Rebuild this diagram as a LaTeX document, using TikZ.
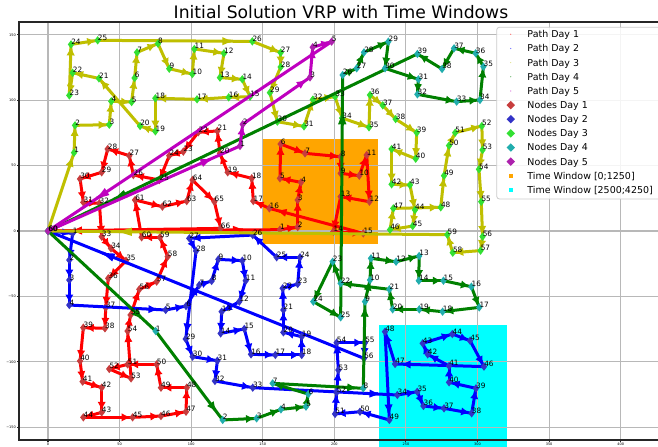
\documentclass[tikz,border=0pt]{standalone}
\usepackage{fontspec}
\setmainfont{DejaVu Sans}
\usetikzlibrary{arrows.meta,calc,shapes.geometric}
\definecolor{pr}{rgb}{1,0,0}
\definecolor{pb}{rgb}{0,0,1}
\definecolor{py}{rgb}{0.75,0.75,0}
\definecolor{pg}{rgb}{0,0.5,0}
\definecolor{pm}{rgb}{0.75,0,0.75}
\definecolor{nr}{rgb}{0.78,0.24,0.24}
\definecolor{nb}{rgb}{0.2,0.2,0.78}
\definecolor{ny}{rgb}{0.2,0.88,0.2}
\definecolor{ng}{rgb}{0.13,0.68,0.68}
\definecolor{nm}{rgb}{0.68,0.13,0.68}
\definecolor{twa}{rgb}{1,0.647,0}
\definecolor{twb}{rgb}{0,1,1}
\definecolor{gridc}{rgb}{0.72,0.72,0.72}
\newcommand\segm[3]{%
  \draw[seg,draw=#1] (#2) -- (#3);
  \path let \p1=(#2), \p2=(#3) in \pgfextra{%
    \pgfmathsetmacro\LL{veclen(\x2-\x1,\y2-\y1)}%
    \pgfmathsetmacro\gp{max(0.2*\LL-8,2.5)}%
    \pgfmathsetmacro\tfa{(\LL-\gp)/\LL}%
    \pgfmathsetmacro\tfb{(\LL-\gp-1)/\LL}%
    \pgfmathsetmacro\thl{5+0.02*\LL}%
    \xdef\fa{\tfa}\xdef\fb{\tfb}\xdef\hl{\thl}};
  \draw[seg,draw=#1,-{Triangle[length=\hl pt,width=5.5pt]}] ($(#2)!\fb!(#3)$) -- ($(#2)!\fa!(#3)$);
}
\begin{document}
\begin{tikzpicture}[x=1.07385pt,y=0.98078pt,
  seg/.style={line width=2.25pt},
  dmd/.style={diamond,inner sep=0pt,minimum width=5pt,minimum height=6.5pt,draw=none},
  ldmd/.style={diamond,inner sep=0pt,minimum width=6.5pt,minimum height=6.5pt,draw=none},
  lab/.style={font=\fontsize{5.5}{6}\selectfont,anchor=base west,inner sep=0pt},
  tick/.style={font=\fontsize{2.6}{3}\selectfont,inner sep=0pt},
  legtext/.style={font=\fontsize{7.1}{8}\selectfont,anchor=base west,inner sep=0pt},
  gridline/.style={draw=gridc,line width=0.8pt},
  frame/.style={draw=black!85,line width=0.8pt}]
\clip (-33.52,-164.41) rectangle (426.03,176.65);
\fill[white] (-33.52,-164.41) rectangle (426.03,176.65);
% time windows
\fill[twa] (150,-10.2) rectangle (230.3,70.1);
\fill[twb] (231.4,-170) rectangle (320.6,-71.9);
% grid
\foreach \gx in {0,50,...,400} \draw[gridline] (\gx,-159.8) -- (\gx,159.8);
\foreach \gy in {-150,-100,...,150} \draw[gridline] (-20.25,\gy) -- (430,\gy);
\coordinate (dep) at (0,0);
% ---------- Day 1
\foreach \i/\x/\y in {1/162/1,2/174.4/3,3/174.4/23.7,4/176.7/37.2,5/162/40.3,6/162.5/66.5,7/179.5/59.4,8/204.4/56.8,9/204.4/44.1,10/217.4/42.3,11/222.6/58.1,12/224.5/22.4,13/204.4/26.3,14/199.3/-0.5,15/220.2/-1.8,16/154.6/17.3,17/143.4/22.9,18/142.3/40.3,19/125.5/44.9,20/120.1/59.4,21/118.3/76.5,22/105/75.5,23/94.5/60.7,24/84.7/57.6,25/77.8/39,26/59.6/42.8,27/56.8/57.6,28/41.7/62.7,29/37.5/44.9,30/22.4/39.8,31/24.7/21.9,32/35.9/21.2,33/37.5/-4.3,34/44/-13.3,35/54.5/-22.7,36/42.1/-36.2,37/40.3/-58.6,38/39.8/-74.4,39/24.7/-73.9,40/22.4/-99.4,41/24.2/-115.2,42/37.5/-119.8,43/37.5/-138.7,44/24.7/-142.5,45/59.1/-142.5,46/78.9/-141.5,47/96.4/-138.2,48/96.9/-119.8,49/78.9/-119.8,50/75.9/-102,51/55.6/-102,52/42.8/-105.5,53/58/-112.7,54/55.6/-76.5,55/57.7/-64.2,56/63.8/-44.6,57/75.9/-38.7,58/83.6/-19.6,59/78.2/-4.8,60/65.4/-4.8,61/60.8/23.7,62/79.9/18.6,63/96.9/22.9,64/101/39,65/116.2/22.4,66/120.6/2}
  {\coordinate (a\i) at (\x,\y);}
\segm{pr}{dep}{a1}
\foreach \i in {1,...,65}{\pgfmathtruncatemacro\j{\i+1}\segm{pr}{a\i}{a\j}}
\segm{pr}{a66}{dep}
\node[dmd,fill=nr] (ma0) at (dep) {};
\foreach \i in {1,...,66}{\node[dmd,fill=nr] (ma\i) at (a\i) {};}
% ---------- Day 2
\foreach \i/\x/\y in {1/17.2/-1.8,2/14.9/-22.2,3/14.9/-37.5,4/14.9/-56.6,5/82.2/-60.4,6/96.4/-57.4,7/105.7/-41.3,8/114.3/-38.2,9/119/-21.7,10/135.7/-22.7,11/138.1/-38,12/133.6/-54,13/121.3/-61.7,14/120.6/-78.3,15/137.1/-74.9,16/141.8/-94.3,17/158.8/-94.8,18/177.2/-94.8,19/177.2/-80.8,20/164.4/-77.5,21/164.4/-60.4,22/163.9/-43.8,23/174.4/-40.5,24/176/-20.1,25/159.7/-20.1,26/143/-3.1,27/98.7/-5.6,28/103.4/-15.3,29/96.2/-82.6,30/101/-96.1,31/118.3/-99.2,32/116.6/-114.7,33/143/-119.8,34/244/-125.4,35/257.9/-122.9,36/262.2/-133.8,37/276.6/-135.6,38/295.9/-139.4,39/298.9/-120.3,40/280.1/-115.7,41/280.1/-103.2,42/265.2/-94.3,43/261.7/-85.9,44/282.4/-78.8,45/294.8/-83.9,46/304.5/-103.7,47/242.4/-101.7,48/235.4/-77,49/238.4/-144.5,50/217.9/-138.2,51/200.5/-139.9,52/201.6/-123.4,53/202.8/-106.3,54/201.6/-85.4,55/221.4/-85.4,56/220.7/-97.4}
  {\coordinate (b\i) at (\x,\y);}
\segm{pb}{dep}{b1}
\foreach \i in {1,...,55}{\pgfmathtruncatemacro\j{\i+1}\segm{pb}{b\i}{b\j}}
\segm{pb}{b56}{dep}
\node[dmd,fill=nb] (mb0) at (dep) {};
\foreach \i in {1,...,56}{\node[dmd,fill=nb] (mb\i) at (b\i) {};}
% ---------- Day 3
\foreach \i/\x/\y in {1/18.2/59.9,2/18.9/80.8,3/42.8/81.3,4/44.2/99.2,5/58.4/98.6,6/60.5/117,7/62.2/136.6,8/76.8/143.3,9/84.7/124.1,10/100.8/120,11/102.2/139.2,12/122.9/135.9,13/120.1/117.3,14/135.7/116,15/141.1/102.7,16/126.2/102.2,17/104.1/100.7,18/75/101.5,19/75/76.2,20/64.3/80.3,21/35.6/116.7,22/17.2/121,23/14.9/103.7,24/16.1/142.7,25/34.7/145.8,26/142.7/145,27/162.5/136.4,28/162.5/125.4,29/155/105.8,30/160.2/83.6,31/178.8/80,32/185/100.5,33/200.5/102.7,34/205.4/86.4,35/224.2/79.3,36/224.9/104,37/233.8/96.1,38/242.8/85.6,39/257.5/75.2,40/256.8/55.3,41/240/62.7,42/240/35.7,43/252.8/35.2,44/256.3/16.1,45/254.7/3.8,46/238.9/1,47/241.2/17.3,48/274.3/18.1,49/276.6/42.3,50/280.1/65.3,51/284.4/75.2,52/303/80.3,53/303.5/62,54/301/47.2,55/302.6/22.4,56/303.5/-4.3,57/302.1/-15,58/282.7/-16.6,59/278.9/-2.8}
  {\coordinate (c\i) at (\x,\y);}
\segm{py}{dep}{c1}
\foreach \i in {1,...,58}{\pgfmathtruncatemacro\j{\i+1}\segm{py}{c\i}{c\j}}
\segm{py}{c59}{dep}
\node[dmd,fill=ny] (mc0) at (dep) {};
\foreach \i in {1,...,59}{\node[dmd,fill=ny] (mc\i) at (c\i) {};}
% ---------- Day 4
\foreach \i/\x/\y in {1/75.2/-76.5,2/122/-144.5,3/145.7/-143.3,4/162.7/-136.4,5/180.2/-134.3,6/181.8/-124.7,7/156.9/-116.5,8/220.2/-120.3,9/221.4/-54,10/224.9/-37.5,11/225.6/-20.9,12/243.1/-23.5,13/259.2/-19.1,14/259/-38,15/276.2/-38,16/295.7/-42.6,17/301.2/-58.4,18/275.6/-61.7,19/259.3/-59.9,20/240.7/-59.9,21/238.4/-44.6,22/204.4/-40,23/198.8/-23.5,24/185.3/-54,25/204.4/-66,26/205.8/119.3,27/215.6/124.4,28/220.7/136.6,29/237.7/144.8,30/235.4/124.4,31/258.7/116,32/258/104.5,33/285.4/98.9,34/301.7/100.2,35/304.1/125.7,36/298.7/135.9,37/283.6/139.7,38/275.2/123.9,39/258/135.4}
  {\coordinate (d\i) at (\x,\y);}
\segm{pg}{dep}{d1}
\foreach \i in {1,...,38}{\pgfmathtruncatemacro\j{\i+1}\segm{pg}{d\i}{d\j}}
\segm{pg}{d39}{dep}
\node[dmd,fill=ng] (md0) at (dep) {};
\foreach \i in {1,...,39}{\node[dmd,fill=ng] (md\i) at (d\i) {};}
% ---------- Day 5
\foreach \i/\x/\y in {1/134.1/65,2/136/81.6,3/183/117.5,4/184.9/140.5,5/198.1/144.8}
  {\coordinate (e\i) at (\x,\y);}
\segm{pm}{dep}{e1}
\foreach \i in {1,...,4}{\pgfmathtruncatemacro\j{\i+1}\segm{pm}{e\i}{e\j}}
\segm{pm}{e5}{dep}
\node[dmd,fill=nm] (me0) at (dep) {};
\foreach \i in {1,...,5}{\node[dmd,fill=nm] (me\i) at (e\i) {};}
% ---------- labels
\foreach \i in {1,...,66}{\node[lab] (la\i) at (a\i) {\i};}
\foreach \i in {1,...,56}{\node[lab] (lb\i) at (b\i) {\i};}
\foreach \i in {1,...,59}{\node[lab] (lc\i) at (c\i) {\i};}
\foreach \i in {1,...,39}{\node[lab] (ld\i) at (d\i) {\i};}
\foreach \i in {1,...,5}{\node[lab] (le\i) at (e\i) {\i};}
\node[lab] (ldep) at (dep) {60};
\node[lab,xshift=0.3pt] (ldepb) at (dep) {60};
% ---------- axes frame and ticks
\draw[frame] (430,159.8) -- (-20.25,159.8) -- (-20.25,-159.8) -- (430,-159.8);
\foreach \gy/\t in {-150/−150,-100/−100,-50/−50,0/0,50/50,100/100,150/150}{
  \draw[frame] (-20.25,\gy) -- ++(-1.5pt,0);
  \node[tick,anchor=east] (ty\gy) at (-22.3,\gy) {\t};}
\foreach \gx in {0,50,...,400}{
  \draw[frame] (\gx,-159.8) -- ++(0,-1.5pt);
  \node[tick,anchor=north] (tx\gx) at (\gx,-161.6) {\gx};}
% ---------- title
\node[font=\fontsize{12.9}{15}\selectfont,anchor=base,inner sep=0pt] (title) at (204.6,162.6) {Initial Solution VRP with Time Windows};
% ---------- legend
\draw[draw=black!20,fill=white,fill opacity=0.85,line width=0.6pt,rounded corners=2pt] (313.4,24.5) rectangle (440,155.8);
\foreach \k/\c/\t in {0/pr/Path Day 1,1/pb/Path Day 2,2/py/Path Day 3,3/pg/Path Day 4,4/pm/Path Day 5}{
  \fill[\c,opacity=0.6] (323.2,150.4-10.82*\k) circle (0.45pt);
  \node[legtext] (lt\k) at (334.7,150.4-10.82*\k-2.64) {\t};}
\foreach \k/\c/\t in {5/nr/Nodes Day 1,6/nb/Nodes Day 2,7/ny/Nodes Day 3,8/ng/Nodes Day 4,9/nm/Nodes Day 5}{
  \node[ldmd,fill=\c] (lm\k) at (323.2,150.4-10.82*\k) {};
  \node[legtext] (lt\k) at (334.7,150.4-10.82*\k-2.64) {\t};}
\foreach \k/\c/\t in {10/twa/{Time Window [0;1250]},11/twb/{Time Window [2500;4250]}}{
  \fill[\c] ($(323.2,150.4-10.82*\k)+(-1.5pt,-1.5pt)$) rectangle ++(3pt,3pt);
  \node[legtext] (lt\k) at (334.7,150.4-10.82*\k-2.64) {\t};}
\end{tikzpicture}
\end{document}
